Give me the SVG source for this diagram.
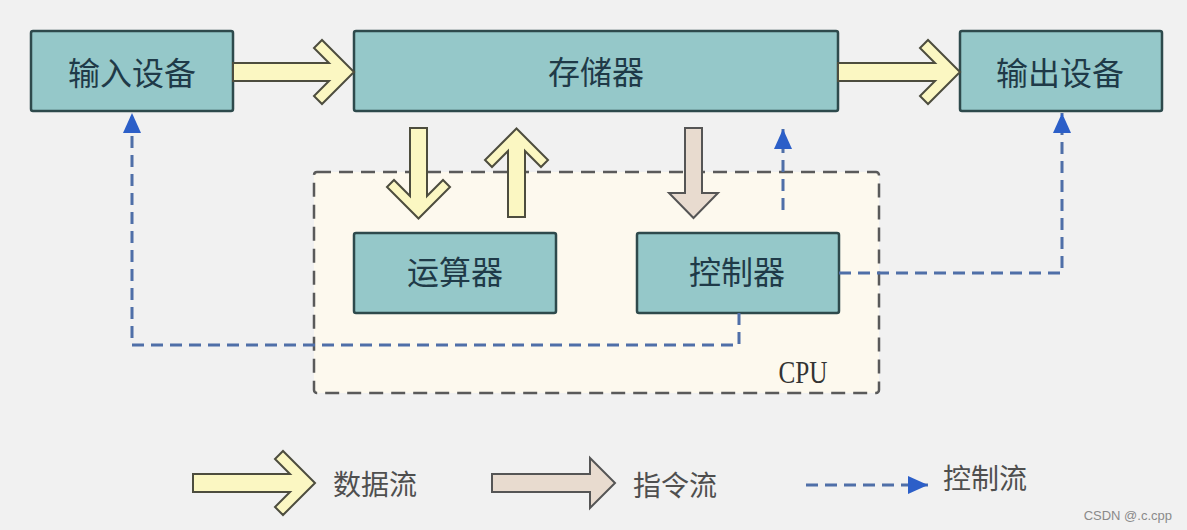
<svg xmlns="http://www.w3.org/2000/svg" width="1187" height="530" viewBox="0 0 1187 530">
  <style>
    .box { fill: #95c8c9; stroke: #2e4a4c; stroke-width: 2.5; }
    .label { font-family: "Noto Sans CJK SC", "Noto Sans", sans-serif; font-size: 32px; fill: #1f3a48; text-anchor: middle; dominant-baseline: central; }
    .legend { font-family: "Noto Sans CJK SC", "Noto Sans", sans-serif; font-size: 28px; fill: #4f4f4f; dominant-baseline: central; }
    .data { fill: #fbf7c2; stroke: #4d4d3e; stroke-width: 2; stroke-linejoin: miter; }
    .instr { fill: #e8dbcf; stroke: #555; stroke-width: 2; }
    .ctrl { fill: none; stroke: #4f6fa8; stroke-width: 3; stroke-dasharray: 12 7; }
    .cpu { fill: #fdf9ee; stroke: #5a5a5a; stroke-width: 2.5; stroke-dasharray: 14 8; }
  </style>
  <defs>
    <marker id="head" viewBox="0 0 20 18" refX="20" refY="9" markerWidth="20" markerHeight="18" markerUnits="userSpaceOnUse" orient="auto">
      <path d="M0,0 L20,9 L0,18 Z" fill="#2c5fc8"/>
    </marker>
  </defs>
  <rect width="1187" height="530" fill="#f1f1f1"/>

  <g id="cpu">
    <rect class="cpu" x="314" y="172" width="565" height="221" rx="3"/>
    <text x="803" y="383" font-family="Liberation Serif, serif" font-size="31" fill="#333" text-anchor="middle" textLength="49" lengthAdjust="spacingAndGlyphs">CPU</text>
  </g>

  <g id="input">
    <rect class="box" x="31" y="31" width="202" height="80" rx="2"/>
    <text class="label" x="132" y="71">输入设备</text>
  </g>
  <g id="memory">
    <rect class="box" x="354" y="31" width="484" height="80" rx="2"/>
    <text class="label" x="596" y="70">存储器</text>
  </g>
  <g id="output">
    <rect class="box" x="960" y="31" width="202" height="80" rx="2"/>
    <text class="label" x="1060" y="71">输出设备</text>
  </g>
  <g id="alu">
    <rect class="box" x="354" y="233" width="202" height="80" rx="2"/>
    <text class="label" x="455" y="270">运算器</text>
  </g>
  <g id="control">
    <rect class="box" x="637" y="233" width="202" height="80" rx="2"/>
    <text class="label" x="737" y="270">控制器</text>
  </g>

  <g id="connectors">
    <path class="data" d="M233,63 L329,63 L314,48 L322,40 L354,72 L322,104 L314,96 L329,81 L233,81 Z"/>
    <path class="data" d="M838,63 L935,63 L920,48 L928,40 L960,72 L928,104 L920,96 L935,81 L838,81 Z"/>
    <path class="data" d="M410,128 L427,128 L427,196 L443,180 L450,187 L418.5,218.5 L387,187 L394,180 L410,196 Z"/>
    <path class="data" d="M508,217 L525,217 L525,151 L541,167 L548,160 L516.5,128.5 L485,160 L492,167 L508,151 Z"/>
    <path class="instr" d="M685,128 L702,128 L702,193 L718,193 L693.5,218 L669,193 L685,193 Z"/>
    <path class="ctrl" d="M783,210 L783,129" marker-end="url(#head)"/>
    <path class="ctrl" d="M839,273 L1062,273 L1062,113" marker-end="url(#head)"/>
    <path class="ctrl" d="M739,313 L739,345 L132,345 L132,113" marker-end="url(#head)"/>
  </g>

  <g id="legend">
    <path class="data" d="M193,474 L290,474 L275,459 L283,451 L315,483 L283,515 L275,507 L290,492 L193,492 Z"/>
    <text class="legend" x="333" y="483">数据流</text>
    <path class="instr" d="M492,474 L590,474 L590,458 L615,483 L590,508 L590,492 L492,492 Z"/>
    <text class="legend" x="633" y="484">指令流</text>
    <path class="ctrl" d="M806,485 L928,485" marker-end="url(#head)"/>
    <text class="legend" x="943" y="477">控制流</text>
    <text x="1172" y="515" font-family="Liberation Sans, sans-serif" font-size="13" fill="#8a8a8a" text-anchor="end" dominant-baseline="central">CSDN @.c.cpp</text>
  </g>
</svg>
